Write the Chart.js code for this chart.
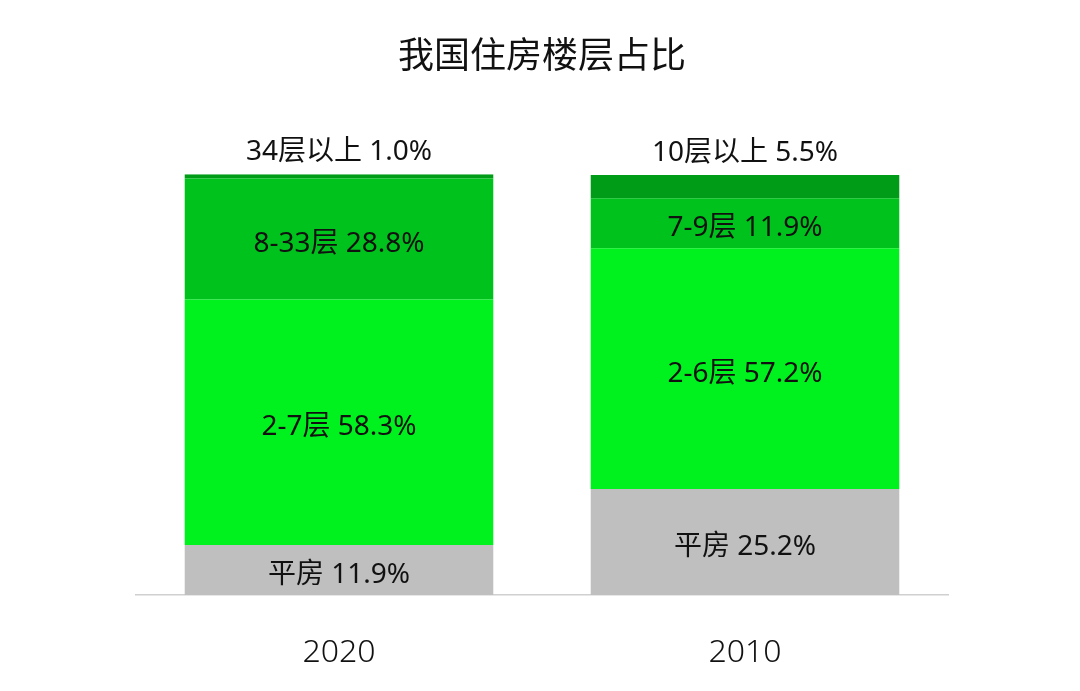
<!DOCTYPE html>
<html>
<head>
<meta charset="utf-8">
<script src="https://cdn.jsdelivr.net/npm/chart.js@4"></script>
<style>
html,body{margin:0;padding:0;background:#fff;}
#wrap{width:1080px;height:691px;position:relative;}
</style>
</head>
<body>
<div id="wrap"><canvas id="c" width="1080" height="691"></canvas></div>
<script>
const categories = ['2020', '2010'];
const level1Labels = ['平房', '平房'];
const level1Values = [11.9, 25.2];
const level2Labels = ['2-7层', '2-6层'];
const level2Values = [58.3, 57.2];
const level3Labels = ['8-33层', '7-9层'];
const level3Values = [28.8, 11.9];
const level4Labels = ['34层以上', '10层以上'];
const level4Values = [1.0, 5.5];
const title = '我国住房楼层占比';

const colors = ['#BFBFBF', '#00F21E', '#00C21C', '#009C18'];
const levels = [
  {labels: level1Labels, values: level1Values},
  {labels: level2Labels, values: level2Values},
  {labels: level3Labels, values: level3Values},
  {labels: level4Labels, values: level4Values}
];

const datasets = levels.map((lv, i) => ({
  label: 'L' + (i + 1),
  data: lv.values,
  segLabels: lv.labels,
  backgroundColor: colors[i],
  borderWidth: 0,
  barPercentage: 0.76,
  categoryPercentage: 1.0,
  outside: i === 3
}));

const FONT = "'Noto Sans', 'Noto Sans CJK SC', sans-serif";

const labelPlugin = {
  id: 'segLabels',
  afterDatasetsDraw(chart) {
    const ctx = chart.ctx;
    ctx.save();
    ctx.fillStyle = '#111';
    ctx.font = '28px ' + FONT;
    ctx.textAlign = 'center';
    ctx.textBaseline = 'middle';
    chart.data.datasets.forEach((ds, di) => {
      const meta = chart.getDatasetMeta(di);
      meta.data.forEach((el, i) => {
        const txt = ds.segLabels[i] + ' ' + ds.data[i].toFixed(1) + '%';
        let y;
        if (ds.outside) {
          y = el.y - 22;
        } else {
          y = (el.y + el.base) / 2 + 5;
        }
        ctx.fillText(txt, el.x, y);
      });
    });
    ctx.restore();
  }
};

new Chart(document.getElementById('c'), {
  type: 'bar',
  data: { labels: categories, datasets },
  options: {
    responsive: false,
    animation: false,
    devicePixelRatio: 1,
    layout: { padding: { left: 136, right: 132, top: 0, bottom: 0 } },
    plugins: {
      legend: { display: false },
      tooltip: { enabled: false },
      title: {
        display: true,
        text: title,
        color: '#111',
        font: { family: FONT, size: 36, weight: 'normal' },
        padding: { top: 36, bottom: 95 }
      }
    },
    scales: {
      x: {
        stacked: true,
        grid: { display: false, drawTicks: false },
        border: { display: true, color: '#D0D0D0', width: 1.5 },
        ticks: { color: '#111', font: { family: FONT, size: 32, weight: 300 }, padding: 39 },
        afterFit(scale) { scale.height = 96; }
      },
      y: {
        stacked: true,
        min: 0,
        max: 100,
        display: false
      }
    }
  },
  plugins: [labelPlugin]
});
</script>
</body>
</html>
